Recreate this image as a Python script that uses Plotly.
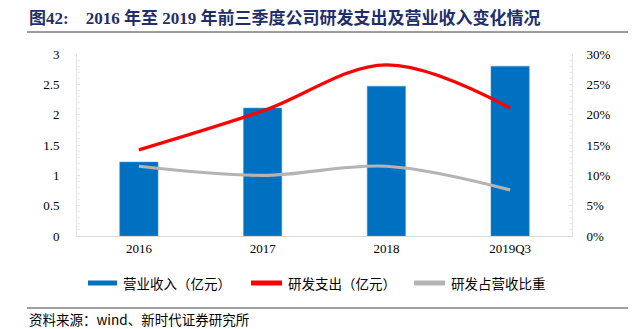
import plotly.graph_objects as go

# 数据
categories = ["2016", "2017", "2018", "2019Q3"]
revenue = [1.22, 2.11, 2.47, 2.80]          # 营业收入（亿元），左轴
rd_expense = [0.142, 0.206, 0.282, 0.211]   # 研发支出（亿元），右轴
rd_ratio = [0.115, 0.100, 0.115, 0.076]     # 研发占营收比重，右轴

left_ticks = [0, 0.5, 1, 1.5, 2, 2.5, 3]
left_labels = ["0", "0.5", "1", "1.5", "2", "2.5", "3"]
right_ticks = [0, 0.05, 0.10, 0.15, 0.20, 0.25, 0.30]
right_labels = ["0%", "5%", "10%", "15%", "20%", "25%", "30%"]

legend_names = ["营业收入（亿元）", "研发支出（亿元）", "研发占营收比重"]
colors = ["#0070C0", "#FF0000", "#B4B4B4"]

W, H = 638, 329
L, R, T, B = 77, 66, 54, 93
PW, PH = W - L - R, H - T - B

SERIF = "Liberation Serif, Noto Sans CJK SC"
CJK = "Noto Sans CJK SC, Liberation Serif"

fig = go.Figure()
fig.add_trace(go.Bar(
    x=categories, y=revenue, name=legend_names[0],
    marker=dict(color=colors[0], line=dict(color="#5B9BD5", width=0.5)),
    width=0.31, yaxis="y",
))
fig.add_trace(go.Scatter(
    x=categories, y=rd_expense, name=legend_names[1], mode="lines",
    line=dict(color=colors[1], width=3.2, shape="spline", smoothing=1.0),
    yaxis="y2",
))
fig.add_trace(go.Scatter(
    x=categories, y=rd_ratio, name=legend_names[2], mode="lines",
    line=dict(color=colors[2], width=3.2, shape="spline", smoothing=1.0),
    yaxis="y2",
))

fig.update_layout(
    width=W, height=H,
    margin=dict(l=L, r=R, t=T, b=B, pad=0),
    paper_bgcolor="white", plot_bgcolor="white",
    showlegend=False,
    font=dict(family=SERIF, size=13, color="#000000"),
    xaxis=dict(
        type="category", showgrid=False, zeroline=False,
        showline=True, linecolor="#D9D9D9", linewidth=1,
        ticks="", tickfont=dict(family=SERIF, size=13),
        range=[-0.5, 3.5],
    ),
    yaxis=dict(
        range=[0, 3], tickvals=left_ticks, ticktext=left_labels,
        showgrid=False, zeroline=False,
        showline=True, linecolor="#E3E3E3", linewidth=1,
        ticks="inside", ticklen=3, tickcolor="#E3E3E3",
        minor=dict(dtick=0.1, ticks="inside", ticklen=3, tickcolor="#EBEBEB"),
        ticklabelstandoff=14,
        tickfont=dict(family=SERIF, size=13),
    ),
    yaxis2=dict(
        range=[0, 0.30], tickvals=right_ticks, ticktext=right_labels,
        overlaying="y", side="right",
        showgrid=False, zeroline=False,
        showline=True, linecolor="#E3E3E3", linewidth=1,
        ticks="inside", ticklen=3, tickcolor="#E3E3E3",
        minor=dict(dtick=0.01, ticks="inside", ticklen=3, tickcolor="#EBEBEB"),
        ticklabelstandoff=11,
        tickfont=dict(family=SERIF, size=13),
    ),
)


def px_x(x):
    # 像素横坐标 -> paper 坐标（相对绘图区）
    return (x - L) / PW


def px_y(y):
    # 像素纵坐标 -> paper 坐标（相对绘图区）
    return (H - B - y) / PH


shapes = []
annotations = []

# 标题及上下分隔线
annotations.append(dict(
    x=px_x(27), y=px_y(18), xref="paper", yref="paper",
    xanchor="left", yanchor="middle", showarrow=False,
    text="<b>图42:    2016 年至 2019 年前三季度公司研发支出及营业收入变化情况</b>",
    font=dict(family=SERIF, size=17, color="#1F2F6B"),
))
shapes.append(dict(type="line", xref="paper", yref="paper",
                   x0=px_x(27), x1=px_x(628), y0=px_y(32), y1=px_y(32),
                   line=dict(color="#3A3A3A", width=1)))
shapes.append(dict(type="line", xref="paper", yref="paper",
                   x0=px_x(27), x1=px_x(628), y0=px_y(308), y1=px_y(308),
                   line=dict(color="#7F7F7F", width=1.5)))

# 图例
legend_pos = [(88, 117), (251, 282), (414, 445)]
for (x0, x1), name, col in zip(legend_pos, legend_names, colors):
    shapes.append(dict(type="line", xref="paper", yref="paper",
                       x0=px_x(x0), x1=px_x(x1), y0=px_y(283), y1=px_y(283),
                       line=dict(color=col, width=5)))
    annotations.append(dict(
        x=px_x(x1 + 4), y=px_y(283), xref="paper", yref="paper",
        xanchor="left", yanchor="middle", showarrow=False,
        text=name, font=dict(family=CJK, size=13.5, color="#000000"),
    ))

# 资料来源
annotations.append(dict(
    x=px_x(27), y=px_y(318.5), xref="paper", yref="paper",
    xanchor="left", yanchor="middle", showarrow=False,
    text="资料来源：wind、新时代证券研究所",
    font=dict(family=CJK, size=13.5, color="#000000"),
))

fig.update_layout(shapes=shapes, annotations=annotations)

fig.write_html("out.html")
